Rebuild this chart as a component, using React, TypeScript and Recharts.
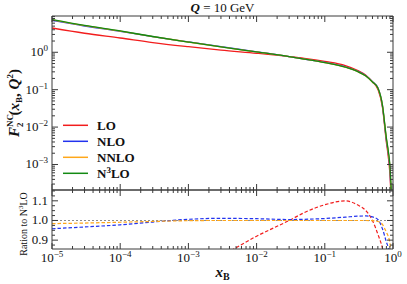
import React from 'react';
import { LineChart, Line, XAxis, YAxis } from 'recharts';

// x_B sample points and values
const xB = [1e-5, 3e-5, 1e-4, 3e-4, 1e-3, 3e-3, 1e-2, 3e-2, 0.05, 0.1, 0.2, 0.3, 0.4, 0.5, 0.6, 0.7, 0.8, 0.85, 0.9, 0.95];

const f2LO = [4.46, 3.23, 2.41, 1.82, 1.41, 1.14, 0.94, 0.77, 0.69, 0.57, 0.44, 0.33, 0.244, 0.161, 0.103, 0.034, 0.0039, 0.0017, 0.00058, 0.00007];
const f2NLO = [7.13, 5.04, 3.63, 2.62, 1.89, 1.41, 1.03, 0.77, 0.66, 0.535, 0.407, 0.314, 0.237, 0.164, 0.112, 0.037, 0.0045, 0.0021, 0.00076, 0.0001];
const f2NNLO = [7.32, 5.14, 3.68, 2.63, 1.88, 1.39, 1.02, 0.77, 0.66, 0.53, 0.4, 0.307, 0.232, 0.161, 0.11, 0.038, 0.0048, 0.0022, 0.00086, 0.00012];
const f2N3LO = [7.44, 5.21, 3.71, 2.64, 1.88, 1.39, 1.02, 0.77, 0.66, 0.53, 0.4, 0.307, 0.232, 0.161, 0.111, 0.039, 0.0051, 0.0024, 0.00097, 0.00015];

const ratioLO = [0.6, 0.62, 0.65, 0.69, 0.75, 0.82, 0.92, 1.0, 1.04, 1.08, 1.1, 1.08, 1.05, 1.0, 0.93, 0.86, 0.76, 0.7, 0.6, 0.45];
const ratioNLO = [0.958, 0.967, 0.978, 0.992, 1.006, 1.011, 1.009, 1.005, 1.006, 1.01, 1.017, 1.022, 1.023, 1.018, 1.005, 0.958, 0.89, 0.86, 0.78, 0.65];
const ratioNNLO = [0.984, 0.987, 0.991, 0.995, 0.999, 1.0, 1.0, 1.0, 1.0, 1.0, 1.0, 1.0, 1.0, 0.999, 0.995, 0.98, 0.94, 0.92, 0.885, 0.8];
const ratioN3LO = [1, 1, 1, 1, 1, 1, 1, 1, 1, 1, 1, 1, 1, 1, 1, 1, 1, 1, 1, 1];

const xMajorTicks = [1e-5, 1e-4, 1e-3, 1e-2, 1e-1, 1];
const f2MajorTicks = [1e-3, 1e-2, 1e-1, 1];
const ratioMajorTicks = [0.9, 1.0, 1.1];
const ratioMinorTicks = [0.875, 0.925, 0.95, 0.975, 1.025, 1.05, 1.075, 1.125, 1.15];

const series = [
  { key: 'lo', name: 'LO', color: '#f21d1d' },
  { key: 'nlo', name: 'NLO', color: '#2233ee' },
  { key: 'nnlo', name: 'NNLO', color: '#ffa71a' },
  { key: 'n3lo', name: 'N3LO', color: '#138a13' },
];

const X_DOMAIN: [number, number] = [1e-5, 1];
const F2_DOMAIN: [number, number] = [2.08e-4, 9.33];
const RATIO_DOMAIN: [number, number] = [0.855, 1.155];

const W = 407;
const H = 284;
const PLOT_L = 52;
const PLOT_R = 393;
const TOP_Y = 16;
const MID_Y = 190;
const BOT_Y = 249;
const AXIS = '#3a3a3a';
const FONT = '"Liberation Serif", "Times New Roman", serif';

function logMinors(lo: number, hi: number) {
  const out: number[] = [];
  for (let e = Math.floor(Math.log10(lo)); e <= Math.ceil(Math.log10(hi)); e++) {
    for (let m = 2; m <= 9; m++) {
      const v = m * Math.pow(10, e);
      if (v > lo && v < hi) out.push(v);
    }
  }
  return out;
}

const xTicks = [...xMajorTicks, ...logMinors(X_DOMAIN[0], X_DOMAIN[1])];
const f2Ticks = [...f2MajorTicks, ...logMinors(F2_DOMAIN[0], F2_DOMAIN[1])];
const ratioTicks = [...ratioMajorTicks, ...ratioMinorTicks];

const topData = xB.map((x, i) => ({ x, lo: f2LO[i], nlo: f2NLO[i], nnlo: f2NNLO[i], n3lo: f2N3LO[i] }));
const ratioData = xB.map((x, i) => ({ x, lo: ratioLO[i], nlo: ratioNLO[i], nnlo: ratioNNLO[i], n3lo: ratioN3LO[i] }));

const isDecade = (v: number) => Math.abs(Math.log10(v) - Math.round(Math.log10(v))) < 1e-6;
const isRatioMajor = (v: number) => ratioMajorTicks.some(t => Math.abs(t - v) < 1e-9);

const expLabel = (v: number) => {
  const e = Math.round(Math.log10(v));
  return e < 0 ? `\u2212${-e}` : `${e}`;
};

// tick mark pointing into the plot, optional label outside
const xTick = (axisY: number, dir: number, label: boolean) => (p: any) => {
  const v = p.payload.value;
  const len = isDecade(v) ? 6 : 3;
  return (
    <g>
      <line x1={p.x} x2={p.x} y1={axisY} y2={axisY + dir * len} stroke={AXIS} strokeWidth={1} />
      {label && isDecade(v) && (
        <text x={p.x} y={axisY + 13} textAnchor="middle" fontFamily={FONT} fontSize={13} fill="#111">
          10<tspan dy={-5} fontSize={9}>{expLabel(v)}</tspan>
        </text>
      )}
    </g>
  );
};

const yTick = (axisX: number, dir: number, kind: 'log' | 'ratio', label: boolean) => (p: any) => {
  const v = p.payload.value;
  const major = kind === 'log' ? isDecade(v) : isRatioMajor(v);
  const len = major ? 6 : 3;
  return (
    <g>
      <line x1={axisX} x2={axisX + dir * len} y1={p.y} y2={p.y} stroke={AXIS} strokeWidth={1} />
      {label && major && kind === 'log' && (
        <text x={axisX - 4} y={p.y + 4} textAnchor="end" fontFamily={FONT} fontSize={13} fill="#111">
          10<tspan dy={-5} fontSize={9}>{expLabel(v)}</tspan>
        </text>
      )}
      {label && major && kind === 'ratio' && (
        <text x={axisX - 4} y={p.y + 4} textAnchor="end" fontFamily={FONT} fontSize={13} fill="#111">
          {v.toFixed(1)}
        </text>
      )}
    </g>
  );
};

const layer: React.CSSProperties = { position: 'absolute', left: 0, top: 0 };
const axisLine = { stroke: AXIS, strokeWidth: 1 };

export default function App() {
  return (
    <div style={{ position: 'absolute', left: 0, top: 0, width: W, height: H, background: '#fff' }}>
      {/* ratio panel */}
      <div style={layer}>
        <LineChart width={W} height={H} data={ratioData}
          margin={{ top: MID_Y - 1, right: W - PLOT_R - 1, bottom: H - BOT_Y - 1, left: 0 }}>
          <XAxis xAxisId="b" dataKey="x" type="number" scale="log" domain={X_DOMAIN} allowDataOverflow
            ticks={xTicks} interval={0} height={1} tickSize={0} tickMargin={0} tickLine={false}
            axisLine={axisLine} tick={xTick(BOT_Y, -1, true)} />
          <XAxis xAxisId="t" orientation="top" dataKey="x" type="number" scale="log" domain={X_DOMAIN} allowDataOverflow
            ticks={xTicks} interval={0} height={1} tickSize={0} tickMargin={0} tickLine={false}
            axisLine={axisLine} tick={xTick(MID_Y, 1, false)} />
          <YAxis yAxisId="l" type="number" domain={RATIO_DOMAIN} allowDataOverflow ticks={ratioTicks} interval={0}
            width={PLOT_L} tickSize={0} tickMargin={0} tickLine={false} axisLine={axisLine}
            tick={yTick(PLOT_L, 1, 'ratio', true)} />
          <YAxis yAxisId="r" orientation="right" type="number" domain={RATIO_DOMAIN} allowDataOverflow ticks={ratioTicks} interval={0}
            width={1} tickSize={0} tickMargin={0} tickLine={false} axisLine={axisLine}
            tick={yTick(PLOT_R, -1, 'ratio', false)} />
          <Line xAxisId="b" yAxisId="l" dataKey="n3lo" type="monotone" stroke="#8c8c8c" strokeWidth={1.2}
            strokeDasharray="2 2" dot={false} isAnimationActive={false} />
          {series.slice(0, 3).map(s => (
            <Line key={s.key} xAxisId="b" yAxisId="l" dataKey={s.key} type="monotone" stroke={s.color} strokeWidth={1.2}
              strokeDasharray="3.5 2" dot={false} isAnimationActive={false} />
          ))}
        </LineChart>
      </div>

      {/* main F2 panel */}
      <div style={layer}>
        <LineChart width={W} height={H} data={topData}
          margin={{ top: TOP_Y - 1, right: W - PLOT_R - 1, bottom: H - MID_Y - 1, left: 0 }}>
          <XAxis xAxisId="b" dataKey="x" type="number" scale="log" domain={X_DOMAIN} allowDataOverflow
            ticks={xTicks} interval={0} height={1} tickSize={0} tickMargin={0} tickLine={false}
            axisLine={axisLine} tick={xTick(MID_Y, -1, false)} />
          <XAxis xAxisId="t" orientation="top" dataKey="x" type="number" scale="log" domain={X_DOMAIN} allowDataOverflow
            ticks={xTicks} interval={0} height={1} tickSize={0} tickMargin={0} tickLine={false}
            axisLine={axisLine} tick={xTick(TOP_Y, 1, false)} />
          <YAxis yAxisId="l" type="number" scale="log" domain={F2_DOMAIN} allowDataOverflow ticks={f2Ticks} interval={0}
            width={PLOT_L} tickSize={0} tickMargin={0} tickLine={false} axisLine={axisLine}
            tick={yTick(PLOT_L, 1, 'log', true)} />
          <YAxis yAxisId="r" orientation="right" type="number" scale="log" domain={F2_DOMAIN} allowDataOverflow ticks={f2Ticks} interval={0}
            width={1} tickSize={0} tickMargin={0} tickLine={false} axisLine={axisLine}
            tick={yTick(PLOT_R, -1, 'log', false)} />
          {series.map(s => (
            <Line key={s.key} xAxisId="b" yAxisId="l" dataKey={s.key} type="monotone" stroke={s.color} strokeWidth={1.3}
              dot={false} isAnimationActive={false} />
          ))}
        </LineChart>
      </div>

      {/* title, axis labels, legend */}
      <svg width={W} height={H} style={layer} fontFamily={FONT}>
        <text x={(PLOT_L + PLOT_R) / 2} y={12} textAnchor="middle" fontSize={13} fill="#111">
          <tspan fontStyle="italic" fontWeight="bold">Q</tspan> = 10 GeV
        </text>
        <text transform={`rotate(-90 19 ${(TOP_Y + MID_Y) / 2})`} x={19} y={(TOP_Y + MID_Y) / 2} textAnchor="middle"
          fontSize={15} fontWeight="bold" fontStyle="italic" fill="#111">
          F<tspan dy={-6} fontSize={9} fontStyle="normal">NC</tspan>
          <tspan dx={-13} dy={10} fontSize={9} fontStyle="normal">2</tspan>
          <tspan dx={7} dy={-4} fontStyle="normal">(</tspan>x<tspan dy={3} fontSize={9} fontStyle="normal">B</tspan>
          <tspan dy={-3} fontStyle="normal">, </tspan>Q<tspan dy={-6} fontSize={9} fontStyle="normal">2</tspan>
          <tspan dy={6} fontStyle="normal">)</tspan>
        </text>
        <text transform={`rotate(-90 27 224)`} x={27} y={224} textAnchor="middle" fontSize={10} fill="#111">
          Ration to N<tspan dy={-4} fontSize={7}>3</tspan><tspan dy={4}>LO</tspan>
        </text>
        <text x={(PLOT_L + PLOT_R) / 2} y={277} textAnchor="middle" fontSize={15} fontWeight="bold" fontStyle="italic" fill="#111">
          x<tspan dy={3} fontSize={10} fontStyle="normal">B</tspan>
        </text>
        {series.map((s, i) => {
          const y = 125.3 + i * 16;
          return (
            <g key={s.key}>
              <line x1={63} x2={88} y1={y} y2={y} stroke={s.color} strokeWidth={1.5} />
              <text x={97} y={y + 4.5} fontSize={13} fontWeight="bold" fill="#111">
                {s.name === 'N3LO' ? (<>N<tspan dy={-5} fontSize={9}>3</tspan><tspan dy={5}>LO</tspan></>) : s.name}
              </text>
            </g>
          );
        })}
      </svg>
    </div>
  );
}
